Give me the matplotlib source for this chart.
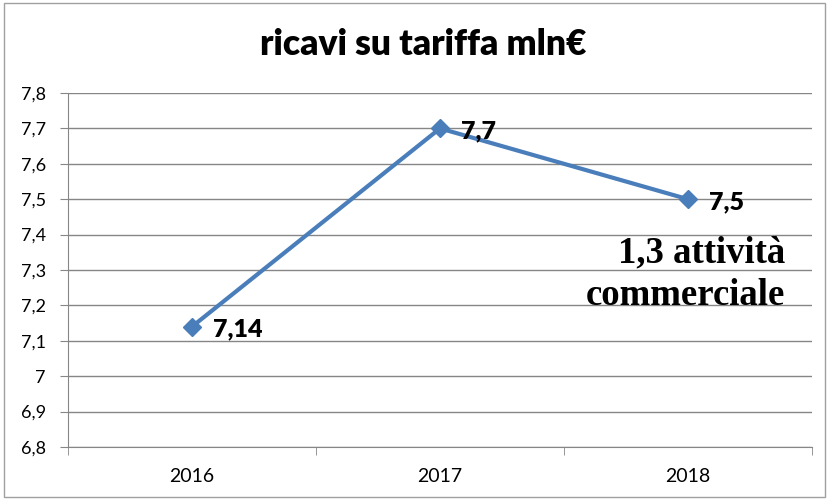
import matplotlib
matplotlib.use('Agg')
import matplotlib.pyplot as plt
from matplotlib.patches import Rectangle

anni = ['2016', '2017', '2018']
ricavi = [7.14, 7.7, 7.5]
etichette = ['7,14', '7,7', '7,5']
y_ticks = [6.8, 6.9, 7.0, 7.1, 7.2, 7.3, 7.4, 7.5, 7.6, 7.7, 7.8]
y_labels = ['6,8', '6,9', '7', '7,1', '7,2', '7,3', '7,4', '7,5', '7,6', '7,7', '7,8']

plt.rcParams['font.family'] = ['Lato', 'DejaVu Sans']

fig = plt.figure(figsize=(8.29, 4.99), dpi=100)
ax = fig.add_axes([0.082, 0.1042, 0.8975, 0.7094])

x = list(range(len(anni)))
ax.plot(x, ricavi, color='#4A7EBB', linewidth=3, marker='D', markersize=9, zorder=3)

for xi, yi, lab in zip(x, ricavi, etichette):
    ax.annotate(lab, (xi, yi), xytext=(15, -2), textcoords='offset points',
                fontsize=18, fontweight='heavy', va='center', ha='left', zorder=4)

# nota in Times
ax.text(2.391, 7.3226, '1,3 attività', fontsize=26.5, fontweight='bold',
        family='Liberation Serif', ha='right', va='baseline')
ax.text(2.391, 7.2011, 'commerciale', fontsize=26.5, fontweight='bold',
        family='Liberation Serif', ha='right', va='baseline')

ax.set_xlim(-0.5, 2.5)
ax.set_ylim(6.8, 7.8)
ax.set_yticks(y_ticks)
ax.set_yticklabels(y_labels)
ax.set_xticks(x)
ax.set_xticklabels(anni)
ax.set_xticks([-0.5, 0.5, 1.5, 2.5], minor=True)
ax.tick_params(axis='x', which='major', length=0, pad=15, labelsize=14)
ax.tick_params(axis='x', which='minor', length=6, color='#868686')
ax.tick_params(axis='y', length=6, color='#868686', labelsize=13, pad=10)

ax.grid(axis='y', color='#868686', linewidth=1)
ax.set_axisbelow(True)
for s in ['top', 'right']:
    ax.spines[s].set_visible(False)
for s in ['left', 'bottom']:
    ax.spines[s].set_color('#868686')

fig.text(0.51, 0.91, 'ricavi su tariffa mln€', ha='center', va='center',
         fontsize=25.5, fontweight='heavy')

fig.patches.append(Rectangle((0.005, 0.004), 0.99, 0.99, transform=fig.transFigure,
                             fill=False, edgecolor='#a0a0a0', linewidth=1))

fig.savefig('out.png', dpi=100)
